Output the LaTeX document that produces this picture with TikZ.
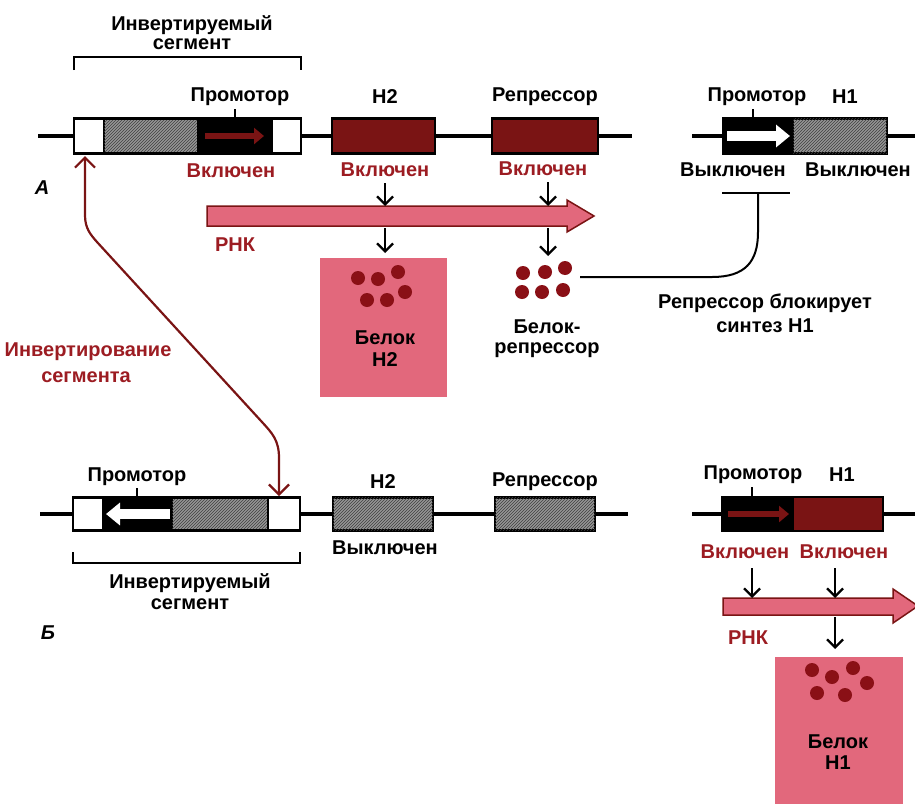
\documentclass[tikz,border=0pt]{standalone}
\usepackage{fontspec}
\setmainfont{Liberation Sans}
\usetikzlibrary{patterns,arrows.meta}
\definecolor{gred}{HTML}{7A1414}
\definecolor{tred}{HTML}{9C1C22}
\definecolor{pinkf}{HTML}{E2687C}
\definecolor{dotc}{HTML}{8A1016}
\definecolor{hatchg}{HTML}{959595}
\begin{document}
\begin{tikzpicture}[x=1pt,y=-1pt,
  every node/.style={font=\fontsize{20}{22}\selectfont\bfseries, inner sep=0pt},
  redlbl/.style={text=tred},
  dna/.style={line width=3.5pt, black},
  gbox/.style={draw=black, line width=2.5pt, minimum height=35pt},
  hatchbox/.style={gbox, fill=hatchg, postaction={pattern=north east lines, pattern color=black!75}},
  genebox/.style={gbox, fill=gred},
  whitebox/.style={gbox, fill=white},
  blackbox/.style={gbox, fill=black},
  outline/.style={gbox},
  tickline/.style={line width=2pt},
  darr/.style={line width=2.3pt, -{Straight Barb[length=8pt,width=16pt,line width=2.3pt]}},
  invarr/.style={line width=2.2pt, draw=gred, {Straight Barb[length=10pt,width=20pt,line width=2.2pt]}-{Straight Barb[length=10pt,width=20pt,line width=2.2pt]}},
  rna/.style={fill=pinkf, draw=gred, line width=1.5pt, line join=miter},
  prot/.style={fill=pinkf},
  pdot/.style={circle, fill=dotc, minimum size=14pt},
  rdot/.style={circle, fill=dotc, minimum size=14pt},
  pw/.style={line width=6pt, gred, -{Triangle[length=10pt,width=16pt]}},
  ww/.style={line width=10pt, white, -{Triangle[length=14pt,width=22pt]}},
]
\useasboundingbox (0,0) rectangle (915,803);

% ================= A =================
\node (invA1) at (192,25) {Инвертируемый};
\node (invA2) at (192,44) {сегмент};
\coordinate (brA1) at (74,70); \coordinate (brA2) at (301,70);
\draw[tickline] (brA1) -- (74,57) -- (301,57) -- (brA2);

\coordinate (lA0) at (38,136); \coordinate (lA5) at (632,136);
\node[whitebox, minimum width=30pt] (wlA) at (89,136) {};
\node[hatchbox, minimum width=94pt] (htA) at (151,136) {};
\node[blackbox, minimum width=74pt] (prA) at (235,136) {};
\node[whitebox, minimum width=29pt] (wrA) at (286.5,136) {};
\node[outline, minimum width=227pt] (segA) at (187.5,136) {};
\draw[pw] (205,136) -- (264,136);
\node[genebox, minimum width=103pt] (h2A) at (383.5,136) {};
\node[genebox, minimum width=106pt] (repA) at (545,136) {};
\draw[dna] (lA0) -- (segA.west);
\draw[dna] (segA.east) -- (h2A.west);
\draw[dna] (h2A.east) -- (repA.west);
\draw[dna] (repA.east) -- (lA5);

\coordinate (rA0) at (692,136); \coordinate (rA3) at (915,136);
\node[blackbox, minimum width=70pt] (pr1A) at (758,136) {};
\node[hatchbox, minimum width=94pt] (h1A) at (840,136) {};
\draw[dna] (rA0) -- (pr1A.west);
\draw[dna] (h1A.east) -- (rA3);
\draw[ww] (727,136) -- (790,136);

\node (tPrA) at (240,97) {Промотор};
\draw[tickline] (235,109) -- (prA.north -| 235,0);
\node (tH2A) at (385,97) {H2};
\node (tRepA) at (545,97) {Репрессор};
\node (tPr1A) at (757,97) {Промотор};
\draw[tickline] (753,109) -- (pr1A.north -| 753,0);
\node (tH1A) at (845,97) {H1};

\node[redlbl] (onA1) at (231,171) {Включен};
\node[redlbl] (onA2) at (385,170) {Включен};
\node[redlbl] (onA3) at (543,169) {Включен};
\node (offA1) at (733,170) {Выключен};
\node (offA2) at (858,170) {Выключен};
\node[font=\fontsize{20}{22}\selectfont\bfseries\itshape] (labA) at (42,188) {А};

% RNA A
\draw[rna] (207,206) -- (567,206) -- (567,200) -- (594,216) -- (567,232) -- (567,226) -- (207,226) -- cycle;
\coordinate (rnaAt1) at (385,206); \coordinate (rnaAb1) at (385,228);
\coordinate (rnaAt2) at (548,206); \coordinate (rnaAb2) at (548,228);
\node[redlbl] (rnkA) at (235,245) {РНК};
\draw[darr] (385,183) -- (rnaAt1);
\draw[darr] (548,182) -- (rnaAt2);

% protein H2
\node[prot, minimum width=127pt, minimum height=139pt] (protH2) at (383.5,327.5) {};
\draw[darr] (rnaAb1) -- (385,253);
\draw[darr] (rnaAb2) -- (548,256);
\foreach \i/\px/\py in {1/358/278,2/378/279,3/398/272,4/367/300,5/387/300,6/405/292}
  \node[pdot] (hd\i) at (\px,\py) {};
\node (tBel2) at (385,338) {Белок};
\node (tBelH2) at (385,360) {H2};

% repressor protein
\foreach \i/\px/\py in {1/523/273,2/545/272,3/565/268,4/522/292,5/542/292,6/563/290}
  \node[rdot] (rd\i) at (\px,\py) {};
\node (tBelR1) at (547,327) {Белок-};
\node (tBelR2) at (547,350) {репрессор};

% blocking line
\coordinate (blkS) at (580,277);
\coordinate (blkT) at (758,193);
\coordinate (barL) at (722,193); \coordinate (barR) at (790,193);
\draw[tickline] (barL) -- (barR);
\draw[tickline] (blkS) -- (712,277) .. controls (745,277) and (758,262) .. (758,232) -- (blkT);
\node (tBlk1) at (765,303) {Репрессор блокирует};
\node (tBlk2) at (765,326) {синтез H1};

% inversion
\node[redlbl] (tInv1) at (88,352) {Инвертирование};
\node[redlbl] (tInv2) at (86,377) {сегмента};
\coordinate (invTop) at (85,156);
\coordinate (invBot) at (279,496);
\draw[invarr] (invTop) -- (85,215) .. controls (85,228) and (90,234) .. (97,242) -- (262,422) .. controls (272,433) and (279,440) .. (279,458) -- (invBot);

% ================= B =================
\coordinate (lB0) at (40,514); \coordinate (lB5) at (628,514);
\node[whitebox, minimum width=30pt, minimum height=33pt] (wlB) at (88,514) {};
\node[blackbox, minimum width=69pt, minimum height=33pt] (prB) at (137.5,514) {};
\node[hatchbox, minimum width=96pt, minimum height=33pt] (htB) at (220,514) {};
\node[whitebox, minimum width=32pt, minimum height=33pt] (wrB) at (284,514) {};
\node[outline, minimum width=227pt, minimum height=33pt] (segB) at (186.5,514) {};
\draw[ww] (170,514) -- (106,514);
\node[hatchbox, minimum width=100pt, minimum height=33pt] (h2B) at (383,514) {};
\node[hatchbox, minimum width=100pt, minimum height=33pt] (repB) at (545,514) {};
\draw[dna] (lB0) -- (segB.west);
\draw[dna] (segB.east) -- (h2B.west);
\draw[dna] (h2B.east) -- (repB.west);
\draw[dna] (repB.east) -- (lB5);

\node (tPrB) at (137,477) {Промотор};
\draw[tickline] (137,488) -- (prB.north -| 137,0);
\node (tH2B) at (383,482) {H2};
\node (tRepB) at (545,482) {Репрессор};
\node (offB) at (385,548) {Выключен};
\coordinate (brB1) at (73,552); \coordinate (brB2) at (300,552);
\draw[tickline] (brB1) -- (73,563) -- (300,563) -- (brB2);
\node (invB1) at (190,583) {Инвертируемый};
\node (invB2) at (190,604) {сегмент};
\node[font=\fontsize{20}{22}\selectfont\bfseries\itshape] (labB) at (48,633) {Б};

% right B
\coordinate (rB0) at (692,514); \coordinate (rB3) at (915,514);
\node[blackbox, minimum width=71pt, minimum height=34pt] (pr1B) at (757.5,514) {};
\node[genebox, minimum width=90pt, minimum height=34pt] (h1B) at (838,514) {};
\draw[dna] (rB0) -- (pr1B.west);
\draw[dna] (h1B.east) -- (rB3);
\draw[pw] (728,514) -- (789,514);
\node (tPr1B) at (753,475) {Промотор};
\draw[tickline] (752,487) -- (pr1B.north -| 752,0);
\node (tH1B) at (842,475) {H1};
\node[redlbl] (onB1) at (745,552) {Включен};
\node[redlbl] (onB2) at (844,552) {Включен};

\draw[rna] (723,598) -- (893,598) -- (893,589) -- (918,606) -- (893,623) -- (893,615) -- (723,615) -- cycle;
\coordinate (rnaBt1) at (752,598); \coordinate (rnaBt2) at (835,598);
\coordinate (rnaBb) at (835,617);
\draw[darr] (752,568) -- (rnaBt1);
\draw[darr] (835,568) -- (rnaBt2);
\node[redlbl] (rnkB) at (748,638) {РНК};

\node[prot, minimum width=128pt, minimum height=150pt] (protH1) at (839,732) {};
\draw[darr] (rnaBb) -- (835,649);
\foreach \i/\px/\py in {1/812/670,2/832/677,3/853/668,4/817/693,5/845/695,6/867/683}
  \node[pdot] (hh\i) at (\px,\py) {};
\node (tBel1) at (838,742) {Белок};
\node (tBelH1) at (838,763) {H1};
\end{tikzpicture}
\end{document}
